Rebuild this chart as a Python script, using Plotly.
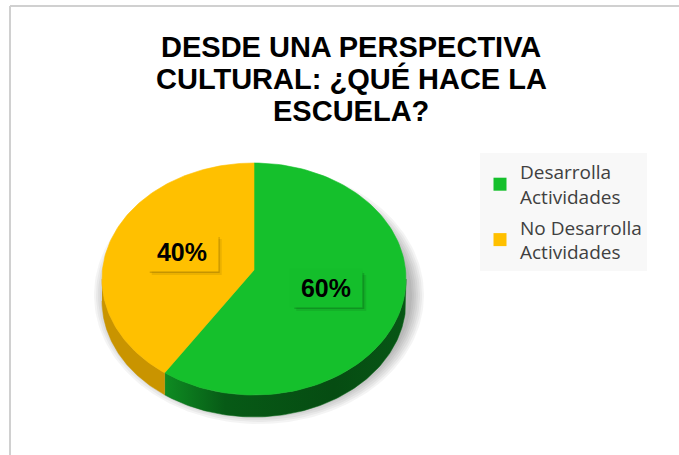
import numpy as np
import plotly.graph_objects as go

# ---- data ----
categories = ["Desarrolla<br>Actividades", "No Desarrolla<br>Actividades"]
values = [60, 40]
top_colors = ["#15C02C", "#FFC000"]
side_colors = ["#0A6A18", "#C99400"]
label_colors = ["#14BE2B", "#FFC000"]
title_lines = ["DESDE UNA PERSPECTIVA", "CULTURAL: ¿QUÉ HACE LA", "ESCUELA?"]

# ---- geometry (pixel space) ----
W, H = 679, 455
cx, cy = 254, 279       # ellipse centre of top face
apx, apy = 254, 270     # pie apex
rx, ry = 152, 116
depth = 22


def arc(t0, t1, n=120, dy=0):
    t = np.radians(np.linspace(t0, t1, n))
    return cx + rx * np.cos(t), cy - ry * np.sin(t) + dy


fig = go.Figure()

# soft shadow
for i in range(7):
    t = np.radians(np.linspace(0, 360, 200))
    sx = cx + 5 + (rx + 1 + 2 * i) * np.cos(t)
    sy = cy + depth * 0.5 + 5 - (ry + 1 + 2 * i) * np.sin(t)
    fig.add_trace(go.Scatter(x=sx, y=sy, fill="toself", mode="lines",
                             line=dict(width=0), fillcolor="rgba(0,0,0,0.045)",
                             hoverinfo="skip", showlegend=False))

total = float(sum(values))
spans = []
start = 90.0
for v in values:
    end = start - v / total * 360.0
    spans.append((end, start))   # ccw interval [end, start]
    start = end

# sides (visible front half: 180..360)
for i, (a, b) in enumerate(spans):
    for k in (-1, 0, 1, 2):
        lo = max(a + 360 * k, 180)
        hi = min(b + 360 * k, 360)
        if hi > lo:
            x1, y1 = arc(lo, hi)
            x2, y2 = arc(hi, lo, dy=depth)
            xs = np.concatenate([x1, x2])
            ys = np.concatenate([y1, y2])
            kw = {}
            if i == 0:
                kw["fillgradient"] = dict(type="horizontal",
                                          colorscale=[[0, "#0E8C22"], [0.25, "#075A16"],
                                                      [0.7, "#064C12"], [1, "#075615"]])
            fig.add_trace(go.Scatter(x=xs, y=ys, fill="toself", mode="lines",
                                     line=dict(width=0.5, color=side_colors[i]),
                                     fillcolor=side_colors[i], hoverinfo="skip",
                                     showlegend=False, **kw))

# top faces
for i, (a, b) in enumerate(spans):
    ax_, ay_ = arc(b, a)
    xs = np.concatenate([[apx], ax_, [apx]])
    ys = np.concatenate([[apy], ay_, [apy]])
    fig.add_trace(go.Scatter(x=xs, y=ys, fill="toself", mode="lines",
                             line=dict(width=0.6, color=top_colors[i]),
                             fillcolor=top_colors[i], hoverinfo="skip",
                             showlegend=False))

# legend entries
for i, c in enumerate(categories):
    fig.add_trace(go.Scatter(x=[None], y=[None], mode="markers", name=c,
                             marker=dict(symbol="square", size=13, color=top_colors[i]),
                             legendgroup=str(i)))

# data labels with soft box shadow
annotations = []
shapes = []
bw, bh = 70, 36
for i, (a, b) in enumerate(spans):
    mid = np.radians((a + b) / 2)
    lx = apx + 0.5 * rx * np.cos(mid)
    ly = apy - 0.5 * ry * np.sin(mid)
    pct = f"{round(values[i] / total * 100)}%"
    for s, op in ((1, 0.22), (3, 0.16), (5, 0.08)):
        shapes.append(dict(type="rect", xref="x", yref="y", layer="above",
                           x0=lx - bw / 2 + s, x1=lx + bw / 2 + s,
                           y0=ly - bh / 2 + s, y1=ly + bh / 2 + s,
                           line=dict(width=0), fillcolor=f"rgba(0,0,0,{op})"))
    annotations.append(dict(x=lx, y=ly, xref="x", yref="y", text=f"<b>{pct}</b>", showarrow=False,
                            width=bw, height=bh, bgcolor=label_colors[i],
                            font=dict(family="Liberation Sans", size=25, color="#000000")))

# title lines
title_y = [46.5, 78.5, 111]
for txt, yy in zip(title_lines, title_y):
    annotations.append(dict(x=351, y=yy, xref="x", yref="y", text=f"<b>{txt}</b>",
                            showarrow=False, xanchor="center", yanchor="middle",
                            font=dict(family="Liberation Sans", size=29, color="#000000")))

shapes += [
    dict(type="line", xref="x", yref="y", x0=10, y0=6, x1=W + 5, y1=6,
         line=dict(color="#D0D0D0", width=2)),
    dict(type="line", xref="x", yref="y", x0=10, y0=6, x1=10, y1=H + 5,
         line=dict(color="#D0D0D0", width=2)),
]

fig.update_layout(
    width=W, height=H,
    margin=dict(l=0, r=0, t=0, b=0),
    paper_bgcolor="white", plot_bgcolor="white",
    xaxis=dict(range=[0, W], visible=False, fixedrange=True),
    yaxis=dict(range=[H, 0], visible=False, fixedrange=True),
    legend=dict(x=480 / W, y=1 - 153 / H, xanchor="left", yanchor="top",
                bgcolor="#F8F8F8", font=dict(family="Open Sans", size=19, color="#404040"),
                tracegroupgap=3, traceorder="grouped"),
    annotations=annotations,
    shapes=shapes,
    showlegend=True,
)

fig.write_html("out.html")
